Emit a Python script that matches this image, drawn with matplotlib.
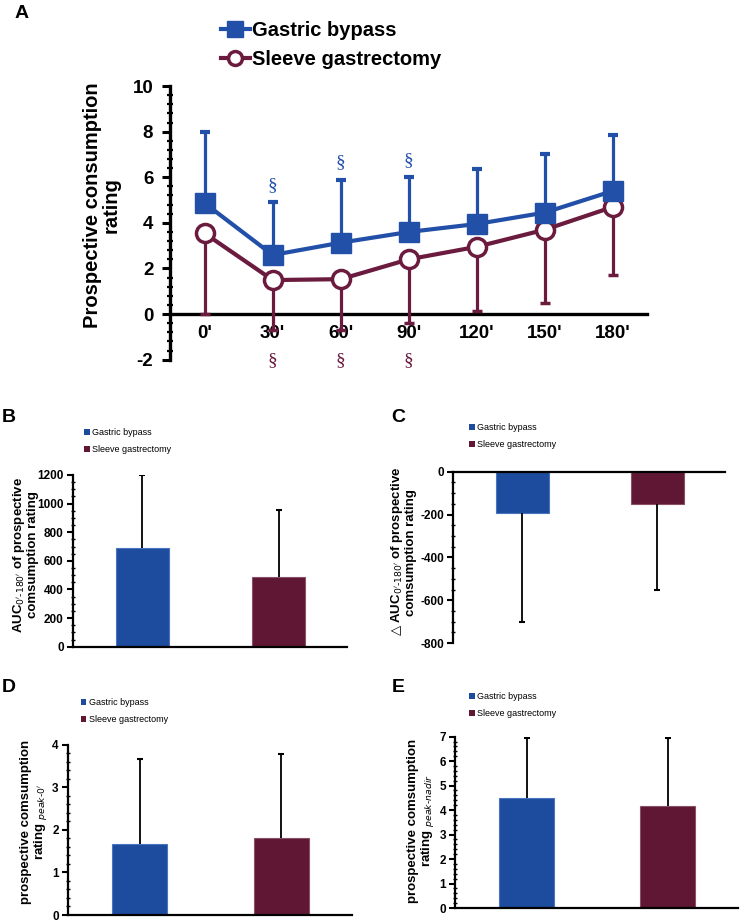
import matplotlib
matplotlib.use("Agg")
import matplotlib.pyplot as plt
from matplotlib.lines import Line2D
from matplotlib.patches import Patch
from matplotlib.ticker import MultipleLocator

plt.rcParams['font.family'] = ['Liberation Sans', 'DejaVu Sans']
plt.rcParams['axes.unicode_minus'] = False

C_GB = "#1D4B9E"
C_SG = "#5F1734"
C_GB_LINE = "#2250A8"
C_SG_LINE = "#6A1B3E"

# ---- data ----
groups = ["Gastric bypass", "Sleeve gastrectomy"]
times = ["0'", "30'", "60'", "90'", "120'", "150'", "180'"]
gb_mean = [4.86, 2.59, 3.13, 3.60, 3.95, 4.45, 5.40]
gb_sd = [3.14, 2.31, 2.77, 2.40, 2.40, 2.55, 2.45]
sg_mean = [3.54, 1.49, 1.53, 2.40, 2.95, 3.70, 4.70]
sg_sd = [3.54, 2.19, 2.23, 2.80, 2.80, 3.20, 3.00]
gb_sig = [False, True, True, True, False, False, False]
sg_sig = [False, True, True, True, False, False, False]

auc_mean = [692, 489]
auc_sd = [508, 466]
dauc_mean = [-195, -151]
dauc_sd = [505, 401]
peak0_mean = [1.67, 1.81]
peak0_sd = [1.99, 1.97]
peaknadir_mean = [4.48, 4.16]
peaknadir_sd = [2.47, 2.77]

fig = plt.figure(figsize=(7.40, 9.21), dpi=100, facecolor="white")

# ==========================================
# A. time course
# ==========================================
ax = fig.add_axes([0.2297, 0.6095, 0.6446, 0.2971])
x = list(range(len(times)))
ax.errorbar(x, gb_mean, yerr=[[0] * len(x), gb_sd], color=C_GB_LINE, lw=3,
            marker='s', ms=14, mfc=C_GB_LINE, mec=C_GB_LINE,
            elinewidth=2.3, capsize=3.5, capthick=3, zorder=4)
ax.errorbar(x, sg_mean, yerr=[sg_sd, [0] * len(x)], color=C_SG_LINE, lw=3,
            marker='o', ms=13, mfc="white", mec=C_SG_LINE, mew=2.5,
            elinewidth=2.3, capsize=3.5, capthick=3, zorder=3)

for i in x:
    if gb_sig[i]:
        ax.text(i, gb_mean[i] + gb_sd[i] + 0.35, "§", color=C_GB_LINE, ha='center',
                va='bottom', fontsize=14, family='Liberation Serif')
    if sg_sig[i]:
        ax.text(i, -2.05, "§", color=C_SG_LINE, ha='center', va='center',
                fontsize=14, family='Liberation Serif', clip_on=False)

ax.set_xlim(-0.51, 6.5)
ax.set_ylim(-2, 10)
ax.spines['top'].set_visible(False)
ax.spines['right'].set_visible(False)
ax.spines['bottom'].set_position(('data', 0))
ax.spines['bottom'].set_linewidth(2.4)
ax.spines['left'].set_linewidth(2.4)
ax.set_xticks(x)
ax.set_xticklabels(times, fontsize=13.5, fontweight='bold')
ax.tick_params(axis='x', length=0, pad=8)
ax.yaxis.set_major_locator(MultipleLocator(2))
ax.yaxis.set_minor_locator(MultipleLocator(0.4))
ax.tick_params(axis='y', which='major', length=6, width=2.2, labelsize=13.5, pad=6)
ax.tick_params(axis='y', which='minor', direction='inout', length=5, width=1.6)
for t in ax.get_yticklabels():
    t.set_fontweight('bold')
ax.set_ylabel("Prospective consumption\nrating", fontsize=14.5, fontweight='bold',
              linespacing=1.0)
ax.yaxis.set_label_coords(-0.103, 0.565)

handles = [Line2D([], [], color=C_GB_LINE, lw=3, marker='s', ms=12, mfc=C_GB_LINE),
           Line2D([], [], color=C_SG_LINE, lw=3, marker='o', ms=10, mfc='white', mew=2.5)]
ax.legend(handles, groups, loc='upper left', bbox_to_anchor=(0.274, 0.997),
          bbox_transform=fig.transFigure, frameon=False, handlelength=1.45,
          handletextpad=0.1, labelspacing=0.5,
          prop={'size': 14.5, 'weight': 'bold'})
fig.text(0.02, 0.995, "A", fontsize=14, fontweight='bold', va='top')


# ==========================================
# bar panels
# ==========================================
def bar_panel(rect, means, sds, ylim, major, minor, ylabel, label_xy, letter, letter_xy, leg_xy):
    bx = fig.add_axes(rect)
    pos = [0, 1]
    neg = means[0] < 0
    ends = [m - s if neg else m + s for m, s in zip(means, sds)]
    bx.bar(pos, means, width=0.39, color=[C_GB, C_SG], edgecolor=["#4A74BE", "#8A5068"],
           linewidth=0.8, zorder=2)
    bx.vlines(pos, means, ends, color='black', lw=1.3, zorder=3)
    bx.plot(pos, ends, ls='none', marker='_', ms=4, mew=1.5, color='black', zorder=3)
    bx.set_xlim(-0.51, 1.5)
    bx.set_ylim(*ylim)
    bx.spines['right'].set_visible(False)
    if neg:
        bx.spines['bottom'].set_visible(False)
        bx.spines['top'].set_linewidth(1.6)
    else:
        bx.spines['top'].set_visible(False)
        bx.spines['bottom'].set_linewidth(1.6)
    bx.spines['left'].set_linewidth(1.6)
    bx.set_xticks([])
    bx.yaxis.set_major_locator(MultipleLocator(major))
    bx.yaxis.set_minor_locator(MultipleLocator(minor))
    bx.tick_params(axis='y', which='major', length=4, width=1.5, labelsize=8.5, pad=2.5)
    bx.tick_params(axis='y', which='minor', direction='inout', length=3, width=1.0)
    for t in bx.get_yticklabels():
        t.set_fontweight('bold')
    bx.set_ylabel(ylabel, fontsize=9.5, fontweight='bold', linespacing=1.0)
    bx.yaxis.set_label_coords(*label_xy)
    fig.text(letter_xy[0], letter_xy[1], letter, fontsize=14, fontweight='bold', va='top')
    leg_handles = [Patch(facecolor=C_GB), Patch(facecolor=C_SG)]
    bx.legend(leg_handles, groups, loc='upper left', bbox_to_anchor=leg_xy,
              bbox_transform=fig.transFigure, frameon=False, handlelength=0.6,
              handleheight=0.6, handletextpad=0.3, labelspacing=0.9,
              prop={'size': 6.5})
    return bx


bar_panel([0.0982, 0.2978, 0.3703, 0.1865], auc_mean, auc_sd, (0, 1200), 200, 50,
          "AUC$_{0'\\text{-}180'}$ of prospective\ncomsumption rating",
          (-0.122, 0.534), "B", (0.002, 0.556), (0.103, 0.544))

bar_panel([0.6126, 0.3018, 0.3672, 0.186], dauc_mean, dauc_sd, (-800, 0), 200, 50,
          "$\\triangle$AUC$_{0'\\text{-}180'}$ of prospective\ncomsumption rating",
          (-0.135, 0.53), "C", (0.529, 0.556), (0.623, 0.5495))

bar_panel([0.0915, 0.0065, 0.3838, 0.185], peak0_mean, peak0_sd, (0, 4), 1, 0.2,
          "prospective comsumption\nrating $_{peak\\text{-}0'}$",
          (-0.066, 0.545), "D", (0.002, 0.263), (0.098, 0.2506))

bar_panel([0.6149, 0.0141, 0.3824, 0.1861], peaknadir_mean, peaknadir_sd, (0, 7), 1, 0.2,
          "prospective comsumption\nrating $_{peak\\text{-}nadir}$",
          (-0.067, 0.51), "E", (0.529, 0.263), (0.623, 0.2575))

fig.savefig("out.png", dpi=100, facecolor="white")
